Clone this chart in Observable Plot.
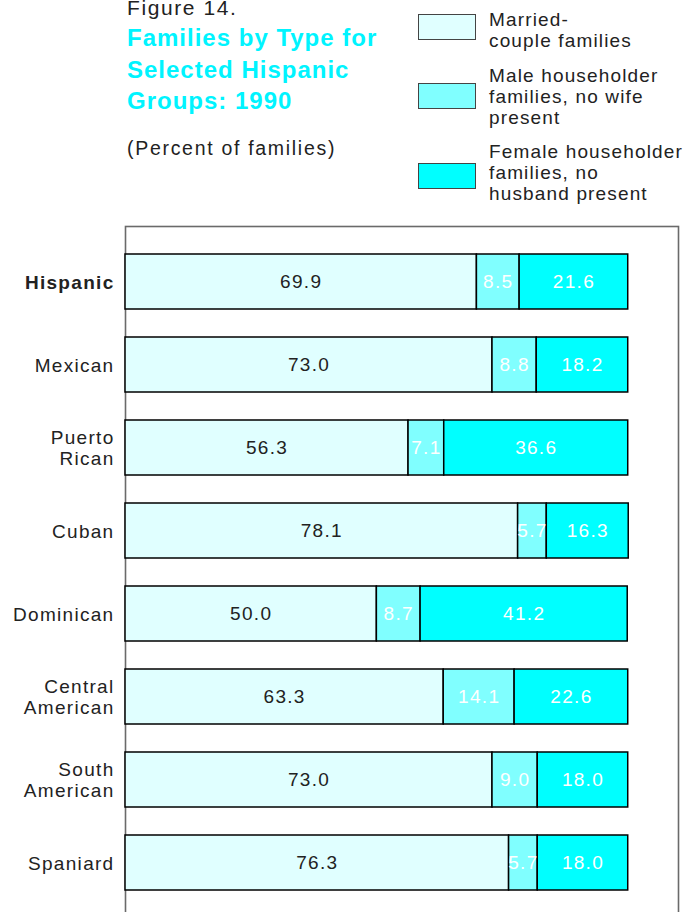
<!DOCTYPE html>
<html>
<head>
<meta charset="utf-8">
<script src="https://cdn.jsdelivr.net/npm/d3@7"></script>
<script src="https://cdn.jsdelivr.net/npm/@observablehq/plot@0.6"></script>
<style>
  html, body { margin: 0; padding: 0; background: #fff; overflow: hidden; }
  body { width: 693px; font-family: "Liberation Sans", Arial, Helvetica, sans-serif; color: #222; }
  #header { position: relative; width: 693px; height: 210px; }
  #header div { position: absolute; white-space: pre; }
  .fig { left: 127px; top: -3px; font-size: 21px; line-height: 21px; letter-spacing: 1.6px; }
  .title { left: 127px; top: 22px; font-size: 24px; line-height: 31.5px; font-weight: bold; color: #00f4ff; letter-spacing: 1px; }
  .sub { left: 127px; top: 139px; font-size: 19.5px; line-height: 19px; letter-spacing: 1.7px; }
  .lgtext { left: 489px; font-size: 19px; line-height: 21px; letter-spacing: 1.15px; }
  .lgbox { left: 418px; width: 58px; height: 26px; border: 1px solid #444; box-sizing: border-box; }
  #chart svg text { letter-spacing: 1.3px; }
</style>
</head>
<body>
<div id="header"></div>
<div id="chart"></div>
<script>
// ---- data ----
const groups = ["Hispanic", "Mexican", "Puerto Rican", "Cuban", "Dominican", "Central American", "South American", "Spaniard"];
const groupLabels = ["Hispanic", "Mexican", "Puerto\nRican", "Cuban", "Dominican", "Central\nAmerican", "South\nAmerican", "Spaniard"];
const married = [69.9, 73.0, 56.3, 78.1, 50.0, 63.3, 73.0, 76.3];
const maleHH = [8.5, 8.8, 7.1, 5.7, 8.7, 14.1, 9.0, 5.7];
const femaleHH = [21.6, 18.2, 36.6, 16.3, 41.2, 22.6, 18.0, 18.0];
const types = ["Married-couple families", "Male householder families, no wife present", "Female householder families, no husband present"];
const legendLabels = ["Married-\ncouple families", "Male householder\nfamilies, no wife\npresent", "Female householder\nfamilies, no\nhusband present"];
const typeColors = ["#e0ffff", "#80ffff", "#00ffff"];
const titleText = "Families by Type for\nSelected Hispanic\nGroups: 1990";
const figureText = "Figure 14.";
const subtitleText = "(Percent of families)";

// ---- header (title + legend) ----
const header = document.getElementById("header");
function addDiv(cls, text, top) {
  const d = document.createElement("div");
  d.className = cls;
  d.textContent = text;
  if (top != null) d.style.top = top + "px";
  header.appendChild(d);
  return d;
}
addDiv("fig", figureText);
addDiv("title", titleText);
addDiv("sub", subtitleText);
const legendTextTops = [9.3, 65, 141];
const legendBoxTops = [14, 83, 163];
legendLabels.forEach((t, i) => {
  addDiv("lgtext", t, legendTextTops[i]);
  const b = addDiv("lgbox", "", legendBoxTops[i]);
  b.style.background = typeColors[i];
});

// ---- tidy table ----
const series = [married, maleHH, femaleHH];
const rows = [];
groups.forEach((g, gi) => {
  series.forEach((s, si) => {
    rows.push({group: g, type: types[si], value: s[gi], idx: si});
  });
});
const labelRows = groups.map((g, i) => ({group: g, label: groupLabels[i]}));

const fmt = d3.format(".1f");

const chart = Plot.plot({
  width: 693,
  height: 720,
  marginTop: 16,
  marginBottom: 12,
  marginLeft: 125,
  marginRight: 15,
  style: {fontFamily: "'Liberation Sans', Arial, Helvetica, sans-serif", fontSize: "19px", color: "#222", background: "#fff"},
  x: {domain: [0, 110], axis: null},
  y: {domain: groups, axis: null, paddingInner: 0.337, paddingOuter: 0.337},
  color: {domain: types, range: typeColors},
  marks: [
    Plot.frame({stroke: "#6a6a6a", strokeWidth: 1.6}),
    Plot.barX(rows, {x: "value", y: "group", fill: "type", stroke: "#000", strokeWidth: 1.5}),
    Plot.text(rows, Plot.filter(d => d.idx === 0, Plot.stackX({
      x: "value", y: "group", text: d => fmt(d.value), fill: "#222", fontSize: 19
    }))),
    Plot.text(rows, Plot.filter(d => d.idx > 0, Plot.stackX({
      x: "value", y: "group", text: d => fmt(d.value), fill: "#fff", fontSize: 19
    }))),
    Plot.text(labelRows, {
      x: () => 0, y: "group", text: "label", textAnchor: "end", dx: -11,
      lineHeight: 1.08, fontSize: 19, fill: "#222",
      fontWeight: "bold", filter: d => d.group === "Hispanic"
    }),
    Plot.text(labelRows, {
      x: () => 0, y: "group", text: "label", textAnchor: "end", dx: -11,
      lineHeight: 1.08, fontSize: 19, fill: "#222",
      filter: d => d.group !== "Hispanic"
    })
  ]
});
document.getElementById("chart").appendChild(chart);
</script>
</body>
</html>
